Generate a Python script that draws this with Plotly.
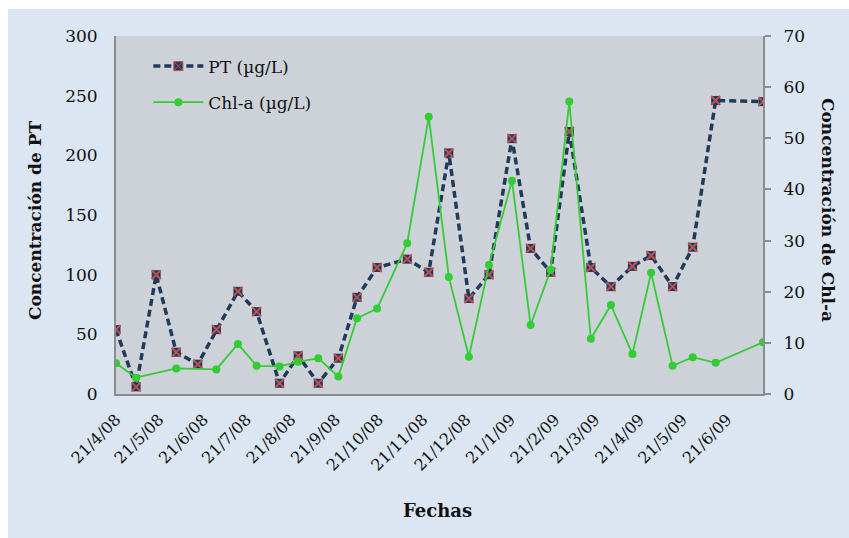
import plotly.graph_objects as go

# ---- data ----
dates = ["2008-04-21", "2008-05-05", "2008-05-19", "2008-06-02", "2008-06-17", "2008-06-30",
         "2008-07-15", "2008-07-28", "2008-08-13", "2008-08-26", "2008-09-09", "2008-09-23",
         "2008-10-06", "2008-10-20", "2008-11-10", "2008-11-25", "2008-12-09", "2008-12-23",
         "2009-01-06", "2009-01-22", "2009-02-04", "2009-02-18", "2009-03-03", "2009-03-18",
         "2009-04-01", "2009-04-16", "2009-04-29", "2009-05-14", "2009-05-28", "2009-06-13",
         "2009-07-16"]
pt_values = [54, 6, 100, 35, 25, 54, 86, 69, 9, 32, 9, 30, 81, 106, 113, 102, 202, 80,
             100, 214, 122, 102, 220, 106, 90, 107, 116, 90, 123, 246, 245]
chl_values = [6.0, 3.2, None, 5.0, None, 4.8, 9.8, 5.5, 5.4, 6.3, 7.0, 3.4, 14.8, 16.7,
              29.5, 54.2, 22.9, 7.3, 25.2, 41.7, 13.5, 24.3, 57.2, 10.8, 17.4, 7.8, 23.7,
              5.5, 7.2, 6.1, 10.1]
left_ticks = [0, 50, 100, 150, 200, 250, 300]
right_ticks = [0, 10, 20, 30, 40, 50, 60, 70]

FONT = "DejaVu Serif"
NAVY = "#203a5c"
RED = "#c0504d"
GREEN = "#33cc33"
AXIS = "#8c8c8c"
PAPER = "#dce6f2"
PLOT = "#cdd1d8"

PT_LINE = dict(color=NAVY, width=3.5, dash="7px,4px")

fig = go.Figure()
# PT series: dashed line with navy square markers
fig.add_trace(go.Scatter(
    x=dates, y=pt_values, name="PT (µg/L)", mode="lines+markers",
    line=PT_LINE,
    marker=dict(symbol="square", size=9, color=NAVY, line=dict(width=0)),
    legendgroup="a", showlegend=False, yaxis="y"))
# red cross on top of each PT marker
fig.add_trace(go.Scatter(
    x=dates, y=pt_values, name="PT (µg/L)", mode="markers",
    marker=dict(symbol="x-thin", size=9, color=RED, line=dict(color=RED, width=2)),
    legendgroup="a", showlegend=False, hoverinfo="skip", yaxis="y"))
# legend entry for PT
fig.add_trace(go.Scatter(
    x=[None], y=[None], name="PT (µg/L)", mode="lines+markers",
    line=PT_LINE,
    marker=dict(symbol="square-x", size=9, color=NAVY, line=dict(color=RED, width=1)),
    legendgroup="a", showlegend=True, yaxis="y"))
fig.add_trace(go.Scatter(
    x=dates, y=chl_values, name="Chl-a (µg/L)", mode="lines+markers",
    connectgaps=True,
    line=dict(color=GREEN, width=1.8),
    marker=dict(symbol="circle", size=8, color=GREEN),
    legendgroup="b", yaxis="y2"))

L, R, T, B = 116, 86, 36, 144
W, H = 849, 538
pw, ph = W - L - R, H - T - B

def px_x(p):
    return (p - L) / pw

def px_y(p):
    return (H - B - p) / ph

fig.update_layout(
    width=W, height=H,
    margin=dict(l=L, r=R, t=T, b=B, autoexpand=False),
    paper_bgcolor=PAPER, plot_bgcolor=PLOT,
    font=dict(family=FONT, size=17, color="#111111"),
    showlegend=True,
    legend=dict(x=0.05, y=0.965, xanchor="left", yanchor="top",
                bgcolor="rgba(0,0,0,0)", font=dict(family=FONT, size=17),
                tracegroupgap=11, traceorder="grouped", itemwidth=50),
    xaxis=dict(type="date", range=["2008-04-21", "2009-07-16"],
               tick0="2008-04-21", dtick="M1", tickformat="%-d/%-m/%y",
               tickangle=-45, showgrid=False, zeroline=False,
               showline=True, linecolor=AXIS, linewidth=2, ticks="",
               ticklabelstandoff=8,
               tickfont=dict(family=FONT, size=16)),
    yaxis=dict(range=[0, 300], tickvals=left_ticks, showgrid=False, zeroline=False,
               showline=True, linecolor=AXIS, linewidth=2, ticks="",
               ticklabelstandoff=13, tickfont=dict(family=FONT, size=17)),
    yaxis2=dict(range=[0, 70], tickvals=right_ticks, overlaying="y", side="right",
                showgrid=False, zeroline=False, showline=True, linecolor=AXIS,
                linewidth=2, ticks="outside", ticklen=6, tickcolor=AXIS, tickwidth=2,
                ticklabelstandoff=9, tickfont=dict(family=FONT, size=17)),
    shapes=[
        dict(type="rect", xref="paper", yref="paper", x0=px_x(0), x1=px_x(W),
             y0=px_y(9), y1=px_y(0), fillcolor="white", line=dict(width=0), layer="below"),
        dict(type="rect", xref="paper", yref="paper", x0=px_x(0), x1=px_x(8),
             y0=px_y(H), y1=px_y(0), fillcolor="white", line=dict(width=0), layer="below"),
    ],
    annotations=[
        dict(text="<b>Concentración de PT</b>", xref="paper", yref="paper",
             x=px_x(35), y=px_y(221), textangle=-90, showarrow=False,
             xanchor="center", yanchor="middle", font=dict(family=FONT, size=17)),
        dict(text="<b>Concentración de Chl-a</b>", xref="paper", yref="paper",
             x=px_x(828), y=px_y(210), textangle=90, showarrow=False,
             xanchor="center", yanchor="middle", font=dict(family=FONT, size=17)),
        dict(text="<b>Fechas</b>", xref="paper", yref="paper",
             x=px_x(437), y=px_y(510), showarrow=False,
             xanchor="center", yanchor="middle", font=dict(family=FONT, size=18)),
    ],
)

fig.write_html("out.html")
